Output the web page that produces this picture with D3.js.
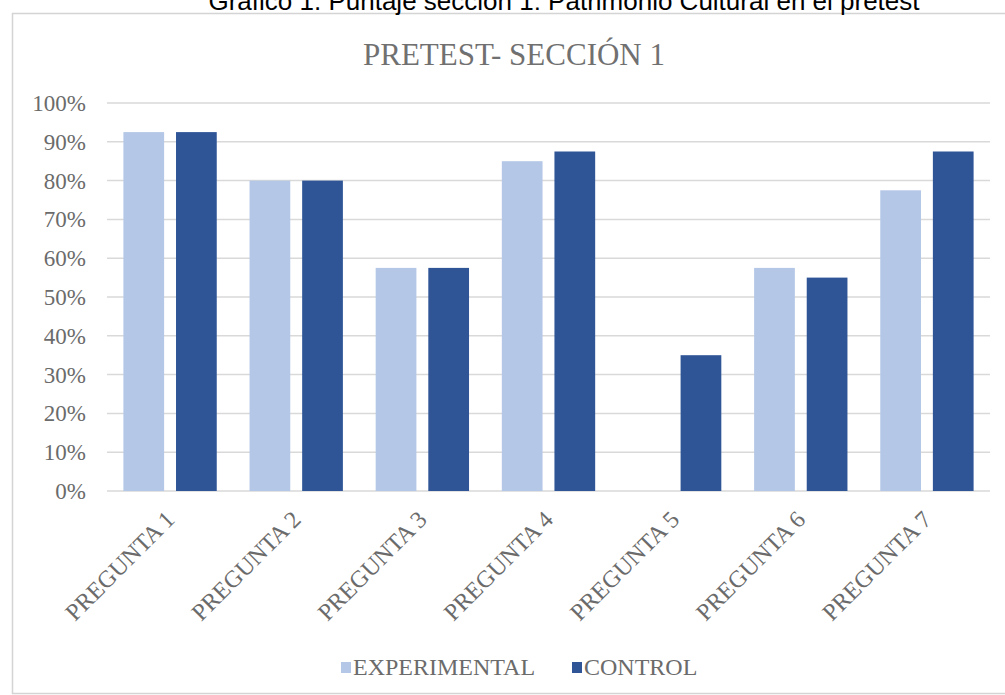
<!DOCTYPE html>
<html>
<head>
<meta charset="utf-8">
<script src="https://cdn.jsdelivr.net/npm/d3@7"></script>
<style>
html,body{margin:0;padding:0;background:#fff;}
svg{display:block;}
</style>
</head>
<body>
<svg id="chart" width="1005" height="695"></svg>
<script>
const caption = "Gráfico 1. Puntaje sección 1: Patrimonio Cultural en el pretest";
const chartTitle = "PRETEST- SECCIÓN 1";
const categories = ["PREGUNTA 1","PREGUNTA 2","PREGUNTA 3","PREGUNTA 4","PREGUNTA 5","PREGUNTA 6","PREGUNTA 7"];
const seriesNames = ["EXPERIMENTAL","CONTROL"];
const experimental = [0.925, 0.80, 0.575, 0.85, 0.0, 0.575, 0.775];
const control      = [0.925, 0.80, 0.575, 0.875, 0.35, 0.55, 0.875];
const yTicks = [0,0.1,0.2,0.3,0.4,0.5,0.6,0.7,0.8,0.9,1.0];
const colors = ["#b4c7e7","#2f5597"];

const svg = d3.select("#chart");
const serif = "'Liberation Serif','Times New Roman',serif";
const textGray = "#6b6b6b";

// chart frame
svg.append("rect").attr("x",12.5).attr("y",13.5).attr("width",1010).attr("height",680)
  .attr("fill","#fff").attr("stroke","#d4d4d4").attr("stroke-width",1.5);

// caption (partly cut off at top, as in the reference)
svg.append("text").attr("x",564).attr("y",10).attr("text-anchor","middle")
  .attr("font-family","'Liberation Sans',Arial,sans-serif").attr("font-size",26)
  .attr("fill","#000").text(caption);

// title
svg.append("text").attr("x",514).attr("y",65).attr("text-anchor","middle")
  .attr("font-family",serif).attr("font-size",31).attr("fill","#707070")
  .text(chartTitle);

const x0 = d3.scaleBand().domain(categories).range([107,990]).paddingInner(0.26).paddingOuter(0.13);
const x1 = d3.scaleBand().domain(seriesNames).range([0,x0.bandwidth()]).paddingInner(0.226);
const y = d3.scaleLinear().domain([0,1]).range([491,103]);

// gridlines
svg.append("g").selectAll("line").data(yTicks).join("line")
  .attr("x1",107).attr("x2",990)
  .attr("y1",d=>y(d)).attr("y2",d=>y(d))
  .attr("stroke","#d9d9d9").attr("stroke-width",1.5);

// y labels
svg.append("g").selectAll("text").data(yTicks).join("text")
  .attr("x",86).attr("y",d=>y(d)).attr("dy","0.35em")
  .attr("text-anchor","end").attr("font-family",serif).attr("font-size",23)
  .attr("fill",textGray).text(d=>d3.format(".0%")(d));

// bars
const data = categories.map((c,i)=>({cat:c, vals:[experimental[i],control[i]]}));
const groups = svg.append("g").selectAll("g").data(data).join("g")
  .attr("transform",d=>`translate(${x0(d.cat)},0)`);
groups.selectAll("rect").data(d=>d.vals.map((v,j)=>({s:seriesNames[j],v,j})))
  .join("rect")
  .attr("x",d=>x1(d.s)).attr("width",x1.bandwidth())
  .attr("y",d=>y(d.v)).attr("height",d=>y(0)-y(d.v))
  .attr("fill",d=>colors[d.j]);

// x labels
svg.append("g").selectAll("text").data(categories).join("text")
  .attr("transform",d=>`translate(${x0(d)+x0.bandwidth()/2+6},${521}) rotate(-45)`)
  .attr("text-anchor","end").attr("font-family",serif).attr("font-size",24)
  .attr("fill",textGray).text(d=>d);

// legend
const legend = [{name:seriesNames[0],x:341,c:colors[0]},{name:seriesNames[1],x:572,c:colors[1]}];
const lg = svg.append("g").selectAll("g").data(legend).join("g");
lg.append("rect").attr("x",d=>d.x).attr("y",662).attr("width",10).attr("height",11).attr("fill",d=>d.c);
lg.append("text").attr("x",d=>d.x+12).attr("y",675).attr("font-family",serif)
  .attr("font-size",24).attr("fill",textGray).text(d=>d.name);
</script>
</body>
</html>
